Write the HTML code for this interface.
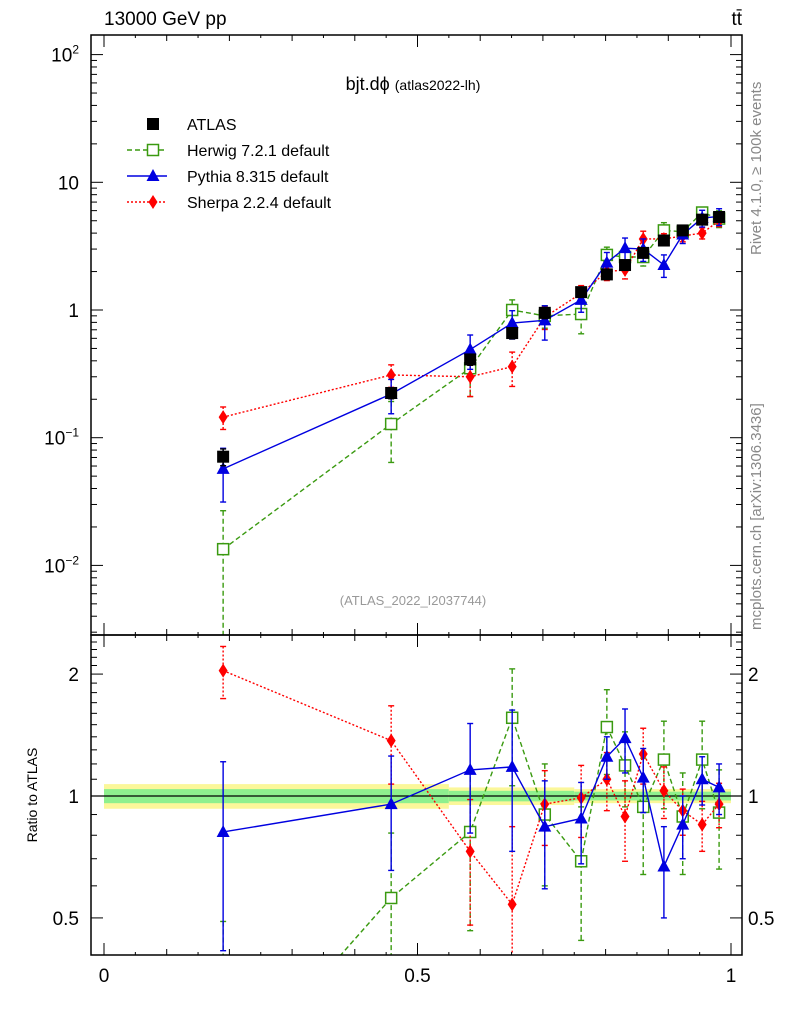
<!DOCTYPE html>
<html><head><meta charset="utf-8"><style>
html,body{margin:0;background:#fff;overflow:hidden;width:786px;height:1024px}
svg{display:block;font-family:"Liberation Sans",sans-serif}
</style></head><body>
<svg id="c" width="786" height="1024" xmlns="http://www.w3.org/2000/svg">
<defs>
<clipPath id="cm"><rect x="91" y="35" width="651" height="600"/></clipPath>
<clipPath id="cr"><rect x="91" y="635" width="651" height="320"/></clipPath>
</defs>
<g id="bands" clip-path="url(#cr)"></g>
<g id="mainG" clip-path="url(#cm)"></g>
<g id="ratioG" clip-path="url(#cr)"></g>
<g id="axes"></g>
<text x="104" y="25" font-size="19">13000 GeV pp</text>
<text x="742" y="25" font-size="19" text-anchor="end">tt̄</text>
<text x="413" y="90" font-size="18" text-anchor="middle">bjt.dϕ <tspan font-size="14">(atlas2022-lh)</tspan></text>
<text x="413" y="605" font-size="13" fill="#999" text-anchor="middle">(ATLAS_2022_I2037744)</text>
<text transform="translate(761,255) rotate(-90)" font-size="15" fill="#888">Rivet 4.1.0, ≥ 100k events</text>
<text transform="translate(761,630) rotate(-90)" font-size="15" fill="#888">mcplots.cern.ch [arXiv:1306.3436]</text>
<text transform="translate(37,795) rotate(-90)" font-size="14" text-anchor="middle">Ratio to ATLAS</text>
<g id="legend"></g>
</svg>
<script>
const xs=[0.190,0.458,0.584,0.651,0.703,0.761,0.802,0.831,0.860,0.893,0.923,0.954,0.981];
const atlas=[0.071,0.224,0.41,0.66,0.95,1.38,1.9,2.25,2.8,3.5,4.2,5.1,5.35];
const atlasErr=[0.15,0.1,0.1,0.1,0.1,0.08,0.08,0.08,0.08,0.08,0.08,0.08,0.08];
const herwig=[0.0134,0.128,0.35,1.0,0.9,0.93,2.7,2.6,2.6,4.2,4.1,5.8,5.2];
const herwigErr=[1.0,0.5,0.4,0.2,0.2,0.3,0.15,0.15,0.15,0.15,0.1,0.1,0.15];
const pythia=[0.057,0.22,0.49,0.79,0.83,1.2,2.35,3.05,3.0,2.25,3.9,5.25,5.4];
const pythiaErr=[0.45,0.3,0.3,0.25,0.3,0.2,0.2,0.2,0.2,0.2,0.15,0.15,0.15];
const sherpa=[0.145,0.31,0.30,0.36,0.88,1.35,2.0,2.06,3.6,3.6,3.8,4.0,5.0];
const sherpaErr=[0.2,0.2,0.3,0.3,0.2,0.15,0.15,0.15,0.15,0.1,0.1,0.1,0.1];
const herwigR=[0.19,0.56,0.815,1.56,0.9,0.69,1.48,1.19,0.94,1.23,0.89,1.23,0.91];
const herwigRErr=[0.3,0.25,0.35,0.5,0.3,0.25,0.35,0.25,0.3,0.3,0.25,0.3,0.25];
const pythiaR=[0.815,0.955,1.16,1.18,0.84,0.88,1.25,1.39,1.11,0.67,0.85,1.10,1.05];
const pythiaRErr=[0.4,0.3,0.35,0.45,0.25,0.2,0.15,0.25,0.2,0.17,0.15,0.15,0.15];
const sherpaR=[2.04,1.37,0.73,0.54,0.955,0.99,1.10,0.89,1.27,1.03,0.92,0.85,0.955];
const sherpaRErr=[0.3,0.3,0.25,0.3,0.2,0.2,0.18,0.2,0.2,0.15,0.12,0.12,0.12];
const xTicks=[0,0.5,1];
const bandEdges=[0,0.55,0.75,1.0];
const yellowHalf=[0.07,0.05,0.04];
const greenHalf=[0.04,0.03,0.025];

const NS="http://www.w3.org/2000/svg";
const XL=91,XR=742;
const X=v=>104+627*v;
const Ym=v=>310-127.7*Math.log10(v);
const Yr=v=>796-405*Math.log10(v);
function el(t,a,p){const e=document.createElementNS(NS,t);for(const k in a)e.setAttribute(k,a[k]);p.appendChild(e);return e;}
const mainG=document.getElementById('mainG'),ratioG=document.getElementById('ratioG'),axes=document.getElementById('axes'),bands=document.getElementById('bands'),leg=document.getElementById('legend');

for(let i=0;i<bandEdges.length-1;i++){
 const x0=X(bandEdges[i]),x1=X(bandEdges[i+1]);
 let r=el('rect',{x:x0,y:Yr(1+yellowHalf[i]),width:x1-x0,height:Yr(1-yellowHalf[i])-Yr(1+yellowHalf[i]),fill:'#fbf79a'},bands);
 
 
 let g=el('rect',{x:x0,y:Yr(1+greenHalf[i]),width:x1-x0,height:Yr(1-greenHalf[i])-Yr(1+greenHalf[i]),fill:'#8ef08e'},bands);
 
 
}
el('line',{x1:XL,x2:XR,y1:Yr(1),y2:Yr(1),stroke:'#000','stroke-width':1.2},bands);

function marker(type,x,y,col,p,name){
 let m;
 if(type==='sq') m=el('rect',{x:x-6,y:y-6,width:12,height:12,fill:'#000'},p);
 else if(type==='osq') m=el('rect',{x:x-5.5,y:y-5.5,width:11,height:11,fill:'#fff',stroke:col,'stroke-width':1.5},p);
 else if(type==='tri') m=el('polygon',{points:`${x},${y-7} ${x-6.5},${y+5} ${x+6.5},${y+5}`,fill:col},p);
 else m=el('polygon',{points:`${x},${y-7} ${x-4.5},${y} ${x},${y+7} ${x+4.5},${y}`,fill:col},p);
 
 
}
function series(p,Y,vals,lo,hi,col,dash,type,name,line){
 if(line){const pts=xs.map((x,i)=>X(x)+','+Y(vals[i])).join(' ');
  const l=el('polyline',{points:pts,fill:'none',stroke:col,'stroke-width':1.4,'stroke-dasharray':dash},p);
  
  }
 xs.forEach((x,i)=>{
  const a=Y(hi[i]),b=lo[i]>0?Y(lo[i]):2000;
  const e=el('line',{x1:X(x),x2:X(x),y1:a,y2:b,stroke:col,'stroke-width':1.4,'stroke-dasharray':dash},p);
  
  
  el('line',{x1:X(x)-3,x2:X(x)+3,y1:a,y2:a,stroke:col,'stroke-width':1.4},p);
  if(b<2000) el('line',{x1:X(x)-3,x2:X(x)+3,y1:b,y2:b,stroke:col,'stroke-width':1.4},p);
  marker(type,X(x),Y(vals[i]),col,p,name+'-point');
 });
}
const relLo=(v,e)=>v.map((x,i)=>x*(1-e[i])),relHi=(v,e)=>v.map((x,i)=>x*(1+e[i]));
const absLo=(v,e)=>v.map((x,i)=>x-e[i]),absHi=(v,e)=>v.map((x,i)=>x+e[i]);
series(mainG,Ym,herwig,relLo(herwig,herwigErr),relHi(herwig,herwigErr),'#3a9a10','5,3','osq','herwig',true);
series(mainG,Ym,sherpa,relLo(sherpa,sherpaErr),relHi(sherpa,sherpaErr),'#ff0000','2,2','dia','sherpa',true);
series(mainG,Ym,pythia,relLo(pythia,pythiaErr),relHi(pythia,pythiaErr),'#0000e0','','tri','pythia',true);
series(mainG,Ym,atlas,relLo(atlas,atlasErr),relHi(atlas,atlasErr),'#000','','sq','atlas',false);
series(ratioG,Yr,herwigR,absLo(herwigR,herwigRErr),absHi(herwigR,herwigRErr),'#3a9a10','5,3','osq','herwig-ratio',true);
series(ratioG,Yr,sherpaR,absLo(sherpaR,sherpaRErr),absHi(sherpaR,sherpaRErr),'#ff0000','2,2','dia','sherpa-ratio',true);
series(ratioG,Yr,pythiaR,absLo(pythiaR,pythiaRErr),absHi(pythiaR,pythiaRErr),'#0000e0','','tri','pythia-ratio',true);

let f1=el('rect',{x:XL,y:35,width:XR-XL,height:600,fill:'none',stroke:'#000','stroke-width':1.5},axes);

let f2=el('rect',{x:XL,y:635,width:XR-XL,height:320,fill:'none',stroke:'#000','stroke-width':1.5},axes);

for(let d=-3;d<=2;d++)for(let k=1;k<10;k++){const v=k*Math.pow(10,d),y=Ym(v);if(y<35||y>635)continue;
 const L=k===1?12:6;el('line',{x1:XL,x2:XL+L,y1:y,y2:y,stroke:'#000'},axes);el('line',{x1:XR,x2:XR-L,y1:y,y2:y,stroke:'#000'},axes);}
const mlab=[[0.01,'10<tspan dy="-8" font-size="12">−2</tspan>'],[0.1,'10<tspan dy="-8" font-size="12">−1</tspan>'],[1,'1'],[10,'10'],[100,'10<tspan dy="-8" font-size="12">2</tspan>']];
mlab.forEach(([v,s])=>{const t=el('text',{x:79,y:Ym(v)+7,'font-size':19,'text-anchor':'end'},axes);t.innerHTML=s;
 });
[0.5,0.6,0.7,0.8,0.9,1,1.1,1.2,1.3,1.4,1.5,1.6,1.7,1.8,1.9,2,2.1,2.2,2.3,2.4].forEach(v=>{const y=Yr(v);const L=(v===0.5||v===1||v===2)?12:6;
 el('line',{x1:XL,x2:XL+L,y1:y,y2:y,stroke:'#000'},axes);el('line',{x1:XR,x2:XR-L,y1:y,y2:y,stroke:'#000'},axes);});
[[0.5,'0.5'],[1,'1'],[2,'2']].forEach(([v,s])=>{
 let t=el('text',{x:79,y:Yr(v)+7,'font-size':19,'text-anchor':'end'},axes);t.textContent=s;
 
 let t2=el('text',{x:748,y:Yr(v)+7,'font-size':19},axes);t2.textContent=s;
 });
for(let i=0;i<=20;i++){const v=i*0.05,x=X(v);const L=i%10===0?12:(i%2===0?6:3);
 [[35,1],[635,-1],[635,1],[955,-1]].forEach(([y0,s])=>el('line',{x1:x,x2:x,y1:y0,y2:y0+s*L,stroke:'#000'},axes));}
xTicks.forEach(v=>{const t=el('text',{x:X(v),y:982,'font-size':19,'text-anchor':'middle'},axes);t.textContent=String(v);
 });
const lg=[['ATLAS','#000','','sq'],['Herwig 7.2.1 default','#3a9a10','5,3','osq'],['Pythia 8.315 default','#0000e0','','tri'],['Sherpa 2.2.4 default','#ff0000','2,2','dia']];
lg.forEach(([n,c,d,t],i)=>{const y=124+26*i;
 const g=el('g',{},leg);
 if(t!=='sq')el('line',{x1:127,x2:167,y1:y,y2:y,stroke:c,'stroke-width':1.4,'stroke-dasharray':d},g);
 marker(t,153,y,c,g,'legend-marker');
 const tx=el('text',{x:187,y:y+6,'font-size':16},g);tx.textContent=n;});
</script>
</body></html>
